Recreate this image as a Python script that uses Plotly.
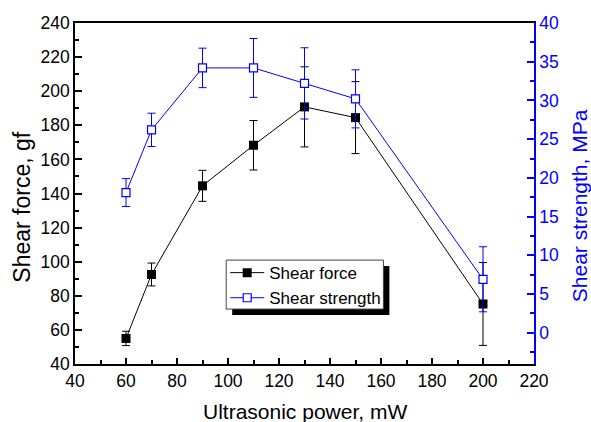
import plotly.graph_objects as go

# Ultrasonic bonding: shear force and shear strength vs. ultrasonic power
power = [60, 70, 90, 110, 130, 150, 200]
shear_force = [55.0, 92.5, 144.5, 168.3, 190.8, 184.5, 75.2]
shear_force_err = [4.2, 6.7, 9.1, 14.5, 23.5, 21.1, 24.3]
shear_strength = [18.1, 26.2, 34.2, 34.2, 32.2, 30.2, 6.9]
shear_strength_err = [1.8, 2.15, 2.55, 3.8, 4.6, 3.75, 4.2]

BLUE = "#0000ff"
FONT = "Arial, Liberation Sans, sans-serif"
TICK_SIZE = 17.5

fig = go.Figure()

fig.add_trace(go.Scatter(
    x=power, y=shear_force, name="Shear force", mode="lines+markers",
    line=dict(color="black", width=1),
    marker=dict(symbol="square", size=9, color="black"),
    error_y=dict(type="data", array=shear_force_err, color="black",
                 thickness=1, width=4),
    yaxis="y",
))
fig.add_trace(go.Scatter(
    x=power, y=shear_strength, name="Shear strength", mode="lines+markers",
    line=dict(color=BLUE, width=1),
    marker=dict(symbol="square", size=8, color="white",
                line=dict(color=BLUE, width=1.2)),
    error_y=dict(type="data", array=shear_strength_err, color=BLUE,
                 thickness=1, width=4),
    yaxis="y2",
))

# legend frame with drop shadow
lx0, lx1, ly0, ly1 = 0.3294, 0.6719, 0.1611, 0.3047
dx, dy = 6 / 459, 6 / 341
shapes = [
    dict(type="rect", xref="paper", yref="paper", layer="above",
         x0=lx0 + dx, x1=lx1 + dx, y0=ly0 - dy, y1=ly1 - dy,
         fillcolor="black", line=dict(width=0)),
    dict(type="rect", xref="paper", yref="paper", layer="above",
         x0=lx0, x1=lx1, y0=ly0, y1=ly1,
         fillcolor="white", line=dict(color="#444444", width=1)),
]

annotations = [
    dict(text="Ultrasonic power, mW", xref="paper", yref="paper",
         x=0.5, y=-0.1393, xanchor="center", yanchor="middle",
         showarrow=False,
         font=dict(size=21, color="black", family=FONT)),
    dict(text="Shear force, gf", xref="paper", yref="paper",
         x=-0.115, y=0.459, xanchor="center", yanchor="middle",
         textangle=-90, showarrow=False,
         font=dict(size=23, color="black", family=FONT)),
    dict(text="Shear strength, MPa", xref="paper", yref="paper",
         x=1.0997, y=0.465, xanchor="center", yanchor="middle",
         textangle=-90, showarrow=False,
         font=dict(size=21, color=BLUE, family=FONT)),
]

fig.update_layout(
    width=591, height=422,
    margin=dict(l=75, r=57, t=23, b=58, pad=0),
    paper_bgcolor="white", plot_bgcolor="white",
    font=dict(family=FONT, size=TICK_SIZE, color="black"),
    showlegend=True,
    legend=dict(x=lx0 - 1 / 459, y=ly1 + 5 / 341, xanchor="left",
                yanchor="top", bgcolor="rgba(0,0,0,0)", borderwidth=0,
                font=dict(size=17, color="black", family=FONT),
                itemwidth=34, tracegroupgap=0),
    xaxis=dict(range=[40, 220], tick0=40, dtick=20, showgrid=False,
               zeroline=False, showline=True, linecolor="black",
               linewidth=1.5, mirror=True, ticks="inside", ticklen=6,
               tickwidth=1.5, tickcolor="black",
               minor=dict(dtick=10, ticks="inside", ticklen=4,
                          tickwidth=1.5, tickcolor="black"),
               tickfont=dict(size=TICK_SIZE, color="black")),
    yaxis=dict(range=[40, 240], tick0=40, dtick=20, showgrid=False,
               zeroline=False, showline=True, linecolor="black",
               linewidth=1.5, ticks="inside", ticklen=7, tickwidth=1.5,
               tickcolor="black",
               minor=dict(dtick=10, ticks="inside", ticklen=4,
                          tickwidth=1.5, tickcolor="black"),
               tickfont=dict(size=TICK_SIZE, color="black")),
    yaxis2=dict(range=[-4.04, 40], tick0=0, dtick=5, overlaying="y",
                side="right", showgrid=False, zeroline=False,
                showline=True, linecolor=BLUE, linewidth=1.5,
                ticks="inside", ticklen=7, tickwidth=1.5, tickcolor=BLUE,
                minor=dict(dtick=2.5, ticks="inside", ticklen=4,
                           tickwidth=1.5, tickcolor=BLUE),
                tickfont=dict(size=TICK_SIZE, color=BLUE)),
    shapes=shapes,
    annotations=annotations,
)

fig.write_html("out.html")
